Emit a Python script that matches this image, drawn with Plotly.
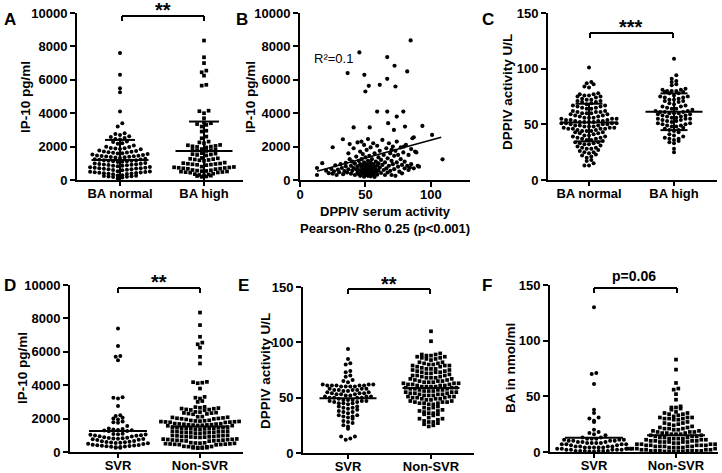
import plotly.graph_objects as go

W, H = 722, 473
FONT = "Liberation Sans"

# ---------------- data ----------------
A_labels = ["BA normal", "BA high"]
A_normal = [7600, 6300, 5500, 5250, 4100, 3400, 3200,
            2800, 2760, 2690, 2620, 2570, 2510, 2460, 2420,
            2310, 2270, 2200, 2170, 2060, 1990, 1970, 1920, 1900, 1880, 1860, 1840,
            1770, 1730, 1700, 1690, 1660, 1640, 1630, 1600, 1590, 1560,
            1520, 1490, 1470, 1450, 1440, 1420, 1410, 1390, 1380, 1360, 1350, 1320,
            1270, 1240, 1230, 1210, 1190, 1180, 1160, 1150, 1130, 1120, 1100, 1080,
            1020, 990, 970, 960, 940, 930, 910, 900, 880, 860, 850, 830,
            780, 760, 740, 730, 710, 700, 690, 670, 650, 640, 620, 600, 590,
            530, 510, 500, 480, 460, 450, 440, 420, 400, 390, 370, 360, 340,
            290, 270, 250, 240, 230, 210, 200, 180, 150, 90]
A_high = [8350, 7350, 7000, 6550, 6450, 6250, 5700, 5650,
          4150, 4120, 4000, 3700, 3450, 3400, 3350, 3300, 3200, 2950, 2900,
          2600, 2500, 2300, 2250, 2200, 2100, 2080, 2040, 2020, 2000, 1980, 1950,
          1850, 1820, 1800, 1780, 1760, 1740, 1610, 1580, 1550, 1530, 1500, 1470,
          1320, 1300, 1270, 1250, 1230, 1200, 1180, 1150,
          1040, 1010, 990, 970, 960, 940, 920, 910, 890,
          800, 780, 760, 750, 730, 720, 700, 680, 670, 650,
          600, 580, 560, 540, 530, 510, 500, 480, 470, 450, 440,
          380, 350, 330, 300, 280, 260, 240, 210, 190]
A_mean = [1200, 1740]
A_sd = [1200, 1760]

B_x = [84.6, 45.4, 66.7, 72.3, 82, 36.4, 49.2, 66.7, 52.6, 61,
       73, 50, 59, 66.7, 79, 74, 67.4, 80.3, 93.6, 41,
       53.3, 71.8, 101, 32.8, 25, 109, 87, 79.5,
       13, 13, 17, 20, 22, 24, 25, 26, 27, 28,
       29, 30, 31, 32, 33, 34, 35, 35, 36, 37,
       37, 38, 38, 39, 39, 40, 40, 41, 41, 42,
       42, 43, 43, 44, 44, 44, 45, 45, 45, 46,
       46, 46, 47, 47, 47, 47, 48, 48, 48, 48,
       49, 49, 49, 49, 50, 50, 50, 50, 50, 51,
       51, 51, 51, 52, 52, 52, 52, 52, 53, 53,
       53, 53, 54, 54, 54, 54, 55, 55, 55, 55,
       56, 56, 56, 56, 57, 57, 57, 58, 58, 58,
       59, 59, 59, 60, 60, 60,
       61, 61, 62, 62, 63, 63, 64, 64, 65, 65,
       66, 66, 67, 67, 68, 68, 69, 69, 70, 70,
       70, 71, 71, 72, 72, 73, 73, 74, 74, 75,
       75, 76, 77, 77, 78, 78, 79, 80, 80, 81,
       82, 83, 83, 84, 85, 85, 86, 87, 88, 89,
       90, 91]
B_y = [8360, 7640, 7360, 6840, 6500, 6400, 6300, 6060, 5640, 5700,
       5600, 5300, 4100, 4100, 4100, 3800, 3400, 3200, 3240, 3150,
       3150, 3000, 2700, 2440, 1960, 1240, 2560, 2000,
       720, 300, 1010, 560, 410, 660, 380, 520, 880, 300,
       620, 470, 950, 720, 350, 540, 1020, 820, 450, 640,
       1600, 2150, 1250, 850, 380, 560, 1100, 1900, 720, 300,
       980, 1400, 640, 450, 2250, 820, 1150, 350, 600, 1700,
       950, 250, 2300, 760, 500, 1250, 380, 880, 1550, 650,
       200, 1050, 2100, 480, 820, 300, 1350, 700, 560, 950,
       420, 1800, 620, 250, 1150, 780, 2450, 500, 900, 350,
       1450, 680, 1050, 220, 580, 1950, 820, 400, 1250, 700,
       300, 950, 2200, 520, 1600, 780, 180, 1100, 450, 650,
       880, 2050, 320, 1350, 560, 1000,
       750, 1750, 420, 1200, 900, 2400, 600, 1500, 300, 1050,
       1900, 700, 1300, 450, 2200, 850, 1600, 550, 1150, 1800,
       300, 2000, 950, 650, 1450, 1750, 250, 1050, 2300, 800,
       1500, 500, 1250, 1950, 900, 400, 1650, 700, 1100, 2100,
       850, 1500, 600, 750, 1850, 950, 2500, 700, 1700, 1650,
       850, 800]
B_fit_x = [13, 108]
B_fit_y = [530, 2560]
B_ticks = [0, 50, 100]

C_labels = ["BA normal", "BA high"]
C_normal = [101, 88, 87, 86, 84, 83,
            78, 77, 77, 76, 76, 75, 75, 74,
            73, 72, 72, 71, 71, 70, 70, 69,
            68, 67, 67, 66, 66, 65, 65, 64, 64,
            62, 62, 61, 61, 61, 60, 60, 60, 59, 59, 58, 58,
            57, 57, 56, 56, 56, 55, 55, 55, 54, 54, 54, 53,
            53, 53, 52, 52, 52, 52, 51, 51, 51, 51, 50, 50, 50,
            49, 49, 49, 48, 48, 48, 47, 47, 47, 46, 46, 46, 46,
            45, 45, 44, 44, 44, 43, 43, 42, 42, 41,
            40, 40, 39, 39, 38, 38, 37, 37, 36, 36,
            35, 34, 34, 33, 33, 32, 32, 31,
            30, 29, 29, 28, 28, 27, 26, 25, 25, 24, 23,
            22, 21, 20, 18, 17, 15, 13, 13]
C_high = [109, 94, 91, 89, 88, 86, 85,
          82, 81, 81, 80, 80, 80, 79, 79, 78, 78,
          76, 75, 75, 74, 74, 73, 72, 72, 71, 71, 70, 69,
          68, 67, 66, 66, 65, 64, 64, 63,
          62, 62, 61, 61, 61, 60, 60, 60, 59, 59, 58, 58,
          57, 57, 56, 56, 55, 55, 55, 54, 54, 53, 53,
          52, 51, 51, 50, 50, 49, 49, 48, 48,
          47, 46, 45, 45, 44, 43,
          41, 40, 39, 38, 37, 37, 36, 35, 34, 33, 28, 25]
C_mean = [51.6, 61.3]
C_sd = [16.9, 16.5]

D_labels = ["SVR", "Non-SVR"]
D_svr = [7400, 6350, 5750, 5700, 5500, 3280, 3250, 3200, 2750,
         2200, 2150, 2050, 2000, 1950, 1820, 1780, 1750, 1560,
         1400, 1370, 1340, 1320, 1300, 1280, 1260, 1250,
         1100, 1080, 1060, 1050, 1030, 1010, 990, 970, 950, 930,
         880, 860, 840, 830, 810, 800, 780, 760, 740, 720,
         660, 640, 620, 600, 590, 570, 560, 540, 520, 500, 480,
         440, 420, 400, 390, 370, 360, 340, 330, 310, 300, 280, 260, 250]
D_non = [8350, 7600, 6900, 6550, 6450, 6250, 5700, 5300,
         4200, 4180, 4150, 4120, 3800, 3300, 3250, 3200, 3050, 3000,
         2700, 2690, 2650, 2630, 2600, 2590, 2550, 2540, 2520, 2500,
         2400, 2390, 2360, 2340, 2330, 2300, 2280, 2260,
         2120, 2110, 2080, 2070, 2040, 2020, 2010, 1990, 1980, 1950,
         1900, 1890, 1870, 1860, 1850, 1830, 1820, 1810, 1800, 1790, 1780, 1770,
         1700, 1690, 1680, 1670, 1660, 1640, 1630, 1620, 1610, 1600, 1590, 1580, 1570,
         1490, 1480, 1470, 1460, 1450, 1430, 1420, 1410, 1400, 1390, 1380, 1370, 1360,
         1250, 1240, 1230, 1220, 1210, 1190, 1180, 1170, 1160, 1150, 1140, 1130, 1120,
         1000, 990, 980, 970, 960, 940, 930, 920, 910, 900, 890, 880, 870,
         780, 770, 760, 750, 740, 720, 710, 700, 690, 680, 670, 660, 650,
         560, 550, 540, 530, 520, 500, 490, 480, 470, 460, 450, 440, 430,
         340, 330, 320, 310, 300, 280, 270, 260, 250, 240, 230]
D_median = [1260, 1520]

E_labels = ["SVR", "Non-SVR"]
E_svr = [94, 85, 81, 80, 74, 73, 70, 69, 66, 65, 64,
         62, 62, 61, 61, 61, 61, 60, 60, 60, 60, 61, 62,
         58, 58, 57, 57, 57, 56, 56, 57, 58,
         55, 55, 54, 54, 54, 53, 53, 53,
         52, 52, 51, 51, 51, 50, 50, 50, 50, 49,
         48, 48, 48, 47, 47, 47, 46, 46, 45, 45, 45, 44,
         42, 42, 41, 41, 40, 39,
         38, 37, 37, 36, 34, 34, 33, 33, 32, 31,
         29, 28, 27, 25, 24, 22, 15, 15, 13, 12]
E_non = [110, 101,
         90, 89, 89, 88, 88, 87, 87, 86, 86, 85, 85, 84,
         82, 82, 81, 81, 80, 80, 79, 79, 79, 78, 78, 77,
         76, 76, 76, 75, 75, 74, 74, 73, 73, 73, 72, 72,
         71, 70, 70, 70, 69, 69, 68, 68, 68, 67, 67, 66,
         66, 65, 65, 65, 64, 64, 64, 63, 63, 63, 62, 62, 62,
         61, 61, 61, 60, 60, 60, 60, 59, 59, 59, 58, 58, 58, 57,
         57, 57, 56, 56, 56, 55, 55, 55, 54, 54, 54, 53, 53, 53,
         52, 52, 52, 51, 51, 51, 50, 50, 50, 49, 49, 49, 48, 48,
         47, 47, 46, 46, 46, 45, 45, 45, 44, 44,
         42, 41, 41, 40, 39, 38, 38, 37, 36, 36, 35, 35, 34,
         32, 31, 31, 30, 29, 28, 28, 27, 26, 25, 24]
E_median = [49.5, 58.8]

F_labels = ["SVR", "Non-SVR"]
F_svr = [130, 71, 70, 61, 38, 35, 31, 30, 28, 27, 20, 18, 17, 16, 15,
         13, 13, 12, 12, 12, 11, 11, 11, 10, 10, 10, 10,
         9, 9, 9, 8, 8, 8, 8, 7, 7, 7, 7, 6, 6,
         5, 5, 5, 5, 4, 4, 4, 4, 4, 3, 3, 3, 3,
         2, 2, 2, 2, 2, 1, 1, 1, 1, 1, 1, 0.5, 0.5]
F_non = [83, 74, 62, 57, 56, 52, 47, 41, 40, 40, 39, 38,
         36, 35, 35, 34, 34, 33, 32, 31, 31, 31, 30, 30, 30, 29, 29,
         27, 26, 26, 25, 25, 24, 23, 22, 22, 21, 21, 21, 20, 20,
         19, 19, 18, 18, 18, 17, 17, 17, 16, 16, 16,
         15, 15, 14, 14, 14, 13, 13, 13, 12, 12, 12, 12,
         11, 11, 11, 10, 10, 10, 10, 9, 9, 9, 9, 9, 8, 8,
         7, 7, 7, 7, 6, 6, 6, 6, 6, 5, 5, 5, 5, 5,
         4, 4, 4, 4, 3, 3, 3, 3, 3, 3, 2, 2, 2, 2,
         1, 1, 1, 1, 1, 1, 1, 0.5, 0.5, 0.5, 0.5, 0.5]
F_median = [12.9, 15.0]

IP10_ticks = [0, 2000, 4000, 6000, 8000, 10000]
U_ticks = [0, 50, 100, 150]

# ---------------- layout helpers ----------------
def px(x):
    return x / W


def py(y):
    return 1 - y / H


fig = go.Figure()
AXFONT = dict(family=FONT, size=13, color="black", weight="bold")
AXCOMMON = dict(showline=True, linewidth=2, linecolor="black", ticks="outside",
                tickwidth=2, tickcolor="black", tickfont=AXFONT, showgrid=False,
                zeroline=False, automargin=False, tickformat="d")


def cat_panel(k, xpx, ypx, cats, yrange, labels, ticks):
    unit = cats[1] - cats[0]
    xr = [-(cats[0] - xpx[0]) / unit, 1 + (xpx[1] - cats[1]) / unit]
    yscale = (ypx[1] - ypx[0]) / (yrange[1] - yrange[0])
    fig.layout["xaxis%d" % k] = dict(
        domain=[px(xpx[0]), px(xpx[1])], range=xr, anchor="y%d" % k,
        ticklen=4, tickvals=[0, 1], ticktext=labels, ticklabelstandoff=-4,
        **AXCOMMON)
    fig.layout["yaxis%d" % k] = dict(
        domain=[py(ypx[1]), py(ypx[0])], range=list(yrange), anchor="x%d" % k,
        ticklen=5, tickvals=ticks, **AXCOMMON)
    return unit, yscale


def swarm(vals, center, unit, yscale, d=4.4, sp=4.6):
    rows = {}
    for v in sorted(vals):
        rows.setdefault(int(v * yscale // d), []).append(v)
    xs, ys = [], []
    for key in sorted(rows):
        row = rows[key]
        n = len(row)
        slots = [(i - (n - 1) / 2) for i in range(n)]
        order = sorted(range(n), key=lambda i: (abs(slots[i]), slots[i]))
        for v, i in zip(row, order):
            xs.append(center + slots[i] * sp / unit)
            ys.append(v)
    return xs, ys


def dots(k, vals, center, unit, yscale, symbol):
    xs, ys = swarm(vals, center, unit, yscale)
    fig.add_trace(go.Scatter(
        x=xs, y=ys, mode="markers", xaxis="x%d" % k, yaxis="y%d" % k,
        marker=dict(symbol=symbol, size=4.0 if symbol == "circle" else 3.7,
                    color="black", line=dict(width=0)),
        cliponaxis=False, showlegend=False, hoverinfo="skip"))


def hline(k, center, unit, value, halfpx, width=2):
    fig.add_trace(go.Scatter(
        x=[center - halfpx / unit, center + halfpx / unit], y=[value, value],
        mode="lines", xaxis="x%d" % k, yaxis="y%d" % k,
        line=dict(color="black", width=width), cliponaxis=False,
        showlegend=False, hoverinfo="skip"))


def vline(k, center, y0, y1, width=2):
    fig.add_trace(go.Scatter(
        x=[center, center], y=[y0, y1], mode="lines",
        xaxis="x%d" % k, yaxis="y%d" % k,
        line=dict(color="black", width=width), cliponaxis=False,
        showlegend=False, hoverinfo="skip"))


shapes = []
annotations = []


def bracket(x0, x1, ytop, ybot):
    for (a, b, c, d) in [(x0, ytop, x1, ytop), (x0, ytop, x0, ybot), (x1, ytop, x1, ybot)]:
        shapes.append(dict(type="line", xref="paper", yref="paper",
                           x0=px(a), y0=py(b), x1=px(c), y1=py(d),
                           line=dict(color="black", width=2)))


def text(x, y, s, size=13, bold=True, angle=0):
    annotations.append(dict(
        x=px(x), y=py(y), xref="paper", yref="paper", text=s, showarrow=False,
        xanchor="center", yanchor="middle", textangle=angle,
        font=dict(family=FONT, size=size, color="black",
                  weight="bold" if bold else "normal")))


# ---------------- Panel A ----------------
u, ys_ = cat_panel(1, (77, 243), (13, 180), (120, 204), (0, 10000), A_labels, IP10_ticks)
dots(1, A_normal, 0, u, ys_, "circle")
dots(1, A_high, 1, u, ys_, "square")
for i in range(2):
    hline(1, i, u, A_mean[i], 28.5)
    hline(1, i, u, A_mean[i] + A_sd[i], 15)
    vline(1, i, max(0, A_mean[i] - A_sd[i]), A_mean[i] + A_sd[i])
bracket(122, 204, 16, 21)
text(163, 10, "**", size=20)
text(25, 97, "IP-10 pg/ml", size=13.5, angle=-90)
text(10, 19, "A", size=17)

# ---------------- Panel B ----------------
fig.layout["xaxis2"] = dict(
    domain=[px(300), px(470)], range=[0, 130], anchor="y2", ticklen=5,
    tickvals=B_ticks, ticklabelstandoff=-4, **AXCOMMON)
fig.layout["yaxis2"] = dict(
    domain=[py(180), py(13)], range=[0, 10000], anchor="x2", ticklen=5,
    tickvals=IP10_ticks, **AXCOMMON)
fig.add_trace(go.Scatter(
    x=B_x, y=B_y, mode="markers", xaxis="x2", yaxis="y2",
    marker=dict(size=4.2, color="black", line=dict(width=0)), cliponaxis=False,
    showlegend=False, hoverinfo="skip"))
fig.add_trace(go.Scatter(
    x=B_fit_x, y=B_fit_y, mode="lines", xaxis="x2", yaxis="y2",
    line=dict(color="black", width=1.6), showlegend=False, hoverinfo="skip"))
text(250, 97, "IP-10 pg/ml", size=13.5, angle=-90)
text(385, 212, "DPPIV serum activity")
text(385, 228, "Pearson-Rho 0.25 (p<0.001)")
text(333, 58, "R²=0.1", bold=False)
text(242, 19, "B", size=17)

# ---------------- Panel C ----------------
u, ys_ = cat_panel(3, (548, 717), (13, 180), (589, 674), (0, 150), C_labels, U_ticks)
dots(3, C_normal, 0, u, ys_, "circle")
dots(3, C_high, 1, u, ys_, "circle")
for i in range(2):
    hline(3, i, u, C_mean[i], 28.5)
    hline(3, i, u, C_mean[i] + C_sd[i], 13.5)
    hline(3, i, u, C_mean[i] - C_sd[i], 13.5)
    vline(3, i, C_mean[i] - C_sd[i], C_mean[i] + C_sd[i])
bracket(590, 673, 33, 38)
text(631, 27, "***", size=20)
text(508, 92, "DPPIV activity U/L", size=13.5, angle=-90)
text(488, 19, "C", size=17)

# ---------------- Panel D ----------------
u, ys_ = cat_panel(4, (70, 243), (285, 452), (118, 200), (0, 10000), D_labels, IP10_ticks)
dots(4, D_svr, 0, u, ys_, "circle")
dots(4, D_non, 1, u, ys_, "square")
for i in range(2):
    hline(4, i, u, D_median[i], 29)
bracket(118, 200, 288, 293)
text(159, 282, "**", size=20)
text(22, 368, "IP-10 pg/ml", size=13.5, angle=-90)
text(10, 285, "D", size=17)

# ---------------- Panel E ----------------
u, ys_ = cat_panel(5, (303, 474), (287, 453), (348, 431), (0, 150), E_labels, U_ticks)
dots(5, E_svr, 0, u, ys_, "circle")
dots(5, E_non, 1, u, ys_, "square")
for i in range(2):
    hline(5, i, u, E_median[i], 28.5)
bracket(348, 430, 289, 294)
text(389, 284, "**", size=20)
text(265, 371, "DPPIV activity U/L", size=13.5, angle=-90)
text(243, 285, "E", size=17)

# ---------------- Panel F ----------------
u, ys_ = cat_panel(6, (550, 718), (285, 452), (594, 676), (0, 150), F_labels, U_ticks)
dots(6, F_svr, 0, u, ys_, "circle")
dots(6, F_non, 1, u, ys_, "square")
for i in range(2):
    hline(6, i, u, F_median[i], 29)
bracket(594, 677, 288, 293)
text(634, 276, "p=0.06", size=14)
text(510, 368, "BA in nmol/ml", size=13.5, angle=-90)
text(487, 285, "F", size=17)

fig.update_layout(
    width=W, height=H, margin=dict(l=0, r=0, t=0, b=0, autoexpand=False),
    paper_bgcolor="white", plot_bgcolor="white", showlegend=False,
    shapes=shapes, annotations=annotations,
    font=dict(family=FONT, color="black"))

fig.write_html("out.html", config={"displayModeBar": False},
               post_script="document.body.style.margin='0';"
                           "document.body.style.padding='0';")
